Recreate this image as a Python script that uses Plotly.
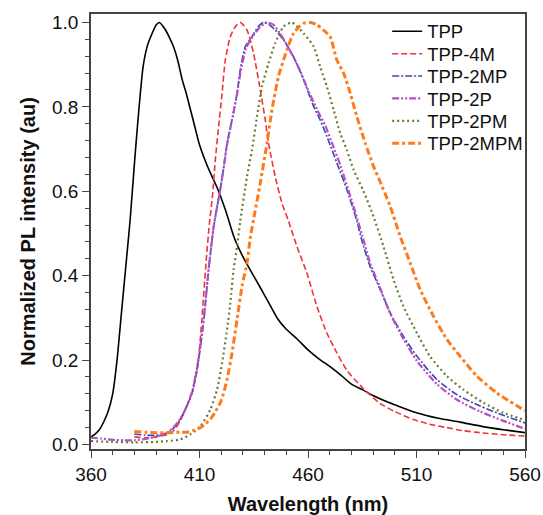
import plotly.graph_objects as go

# ---------------- data ----------------
series_names = ["TPP", "TPP-4M", "TPP-2MP", "TPP-2P", "TPP-2PM", "TPP-2MPM"]

wl_tpp = [360, 362, 364, 366, 368, 370, 372, 374, 376, 378, 380, 382, 384, 386, 388, 390, 391.5,
          394, 396, 398, 400, 402, 404, 406, 408, 410, 414, 418, 422, 426, 430, 434, 438, 442,
          446, 450, 455, 460, 465, 470, 475, 480, 485, 490, 495, 500, 510, 520, 530, 540, 550, 560]
pl_tpp = [0.018, 0.025, 0.036, 0.055, 0.08, 0.12, 0.2, 0.31, 0.42, 0.53, 0.665, 0.79, 0.895, 0.945,
          0.972, 0.994, 1.0, 0.985, 0.966, 0.943, 0.91, 0.865, 0.83, 0.79, 0.75, 0.71, 0.655, 0.61,
          0.555, 0.49, 0.445, 0.408, 0.372, 0.335, 0.298, 0.273, 0.25, 0.224, 0.203, 0.185, 0.165,
          0.143, 0.13, 0.116, 0.104, 0.094, 0.075, 0.062, 0.053, 0.043, 0.035, 0.028]

wl_4m = [380, 385, 390, 395, 398, 401, 403.5, 406.5, 409, 411, 413, 414.5, 416, 417.3, 418.8, 420.4,
         421.9, 424.2, 426.5, 428.8, 431.9, 434.9, 438, 440.3, 441.8, 444.9, 448, 451, 454.9, 459.5,
         464.1, 468.7, 473.3, 478, 485.6, 493.3, 500, 508.6, 516, 524, 531, 539.3, 550, 560]
pl_4m = [0.018, 0.016, 0.018, 0.023, 0.032, 0.055, 0.083, 0.122, 0.178, 0.29, 0.43, 0.52, 0.59,
         0.675, 0.753, 0.832, 0.911, 0.966, 0.99, 1.0, 0.982, 0.927, 0.84, 0.769, 0.714, 0.635,
         0.572, 0.53, 0.469, 0.406, 0.327, 0.264, 0.217, 0.175, 0.132, 0.097, 0.078, 0.059, 0.048,
         0.040, 0.033, 0.028, 0.023, 0.020]

wl_2mp = [380, 385, 390, 395, 398, 401, 403, 406.6, 409.6, 412, 414.2, 416.5, 418, 419.6, 421.1,
          422.7, 425, 427.3, 428.8, 431.1, 434.2, 437, 439.5, 442, 444.9, 448.7, 453.3, 458, 462.6,
          465.6, 468.7, 473.3, 477.9, 482.5, 485, 488.6, 493.3, 497.9, 504, 510.2, 519.4, 528.6,
          539.3, 550, 560]
pl_2mp = [0.025, 0.022, 0.022, 0.027, 0.038, 0.058, 0.078, 0.122, 0.201, 0.296, 0.414, 0.515, 0.56,
          0.605, 0.655, 0.714, 0.769, 0.832, 0.888, 0.943, 0.966, 0.99, 1.0, 0.995, 0.982, 0.959,
          0.919, 0.864, 0.801, 0.769, 0.730, 0.667, 0.604, 0.53, 0.48, 0.422, 0.367, 0.312, 0.256,
          0.209, 0.154, 0.118, 0.091, 0.069, 0.051]

wl_2p = [360, 365, 370, 375, 380, 385, 390, 395, 398, 401, 403, 406.6, 409.6, 412, 414.2, 416.5, 418,
         419.6, 421.1, 422.7, 425, 427.3, 429, 431.5, 435, 438, 441, 444, 447, 451, 456, 460, 465,
         468, 471, 475, 480, 485, 488.6, 493.3, 497.9, 504, 510.2, 519.4, 528.6, 539.3, 550, 560]
pl_2p = [0.016, 0.014, 0.011, 0.010, 0.010, 0.013, 0.018, 0.028, 0.04, 0.06, 0.078, 0.125, 0.205,
         0.30, 0.415, 0.515, 0.56, 0.605, 0.655, 0.71, 0.77, 0.83, 0.885, 0.94, 0.97, 0.99, 1.0,
         0.995, 0.975, 0.94, 0.89, 0.84, 0.785, 0.755, 0.715, 0.66, 0.58, 0.495, 0.43, 0.37, 0.31,
         0.25, 0.198, 0.143, 0.106, 0.078, 0.056, 0.037]

wl_2pm = [360, 370, 380, 390, 395, 401, 405.8, 410.4, 415, 418.1, 420.4, 422.7, 424.2, 425.7, 427.3,
          428.8, 431.9, 434.2, 436.5, 438.8, 441.8, 444.9, 448.7, 452.6, 458, 462.6, 465.6, 468.7,
          471.8, 474.8, 477.9, 481, 485.6, 490.2, 494.8, 499.4, 504, 510.2, 516.2, 524, 531.6,
          540.8, 550, 560]
pl_2pm = [0.008, 0.006, 0.005, 0.006, 0.008, 0.012, 0.024, 0.043, 0.083, 0.13, 0.193, 0.272, 0.335,
          0.414, 0.469, 0.53, 0.635, 0.698, 0.777, 0.848, 0.903, 0.951, 0.99, 1.0, 0.974, 0.943,
          0.895, 0.848, 0.793, 0.738, 0.698, 0.651, 0.60, 0.54, 0.469, 0.391, 0.327, 0.264, 0.209,
          0.162, 0.130, 0.099, 0.075, 0.058]

wl_2mpm = [380, 385, 390, 395, 401, 404.4, 407, 410.4, 413, 415, 417, 419.6, 421, 422.7, 425, 427.3,
           429.6, 431.9, 433.4, 434.9, 438, 441.1, 443.4, 446.4, 450.3, 453.3, 456, 458, 461, 464,
           467.1, 470.2, 473.3, 476.4, 479.5, 482.5, 486.4, 490.2, 493.3, 497.9, 502.5, 507.1,
           511.7, 517.8, 524, 530.1, 537.8, 547, 560]
pl_2mpm = [0.031, 0.029, 0.028, 0.028, 0.029, 0.029, 0.033, 0.04, 0.05, 0.06, 0.075, 0.099, 0.12,
           0.154, 0.217, 0.296, 0.375, 0.43, 0.49, 0.533, 0.619, 0.714, 0.793, 0.872, 0.935, 0.974,
           0.99, 0.998, 1.0, 0.995, 0.982, 0.966, 0.911, 0.880, 0.832, 0.777, 0.714, 0.659, 0.622,
           0.564, 0.493, 0.430, 0.367, 0.304, 0.249, 0.209, 0.162, 0.122, 0.08]

x_ticks = [360, 410, 460, 510, 560]
y_ticks = [0.0, 0.2, 0.4, 0.6, 0.8, 1.0]

# ---------------- styles ----------------
styles = [
    dict(color="#000000", width=1.6, dash="solid"),
    dict(color="#f0333a", width=1.6, dash="6px,3px"),
    dict(color="#3a47b0", width=1.6, dash="7px,2px,2px,2px"),
    dict(color="#b44fc4", width=2.2, dash="7px,2px,2px,2px,2px,2px"),
    dict(color="#6b7d2c", width=2.2, dash="2px,3px"),
    dict(color="#ff7a1a", width=3.0, dash="7px,3px,3px,3px"),
]

xs = [wl_tpp, wl_4m, wl_2mp, wl_2p, wl_2pm, wl_2mpm]
ys = [pl_tpp, pl_4m, pl_2mp, pl_2p, pl_2pm, pl_2mpm]

font_family = "Liberation Sans, Arial, sans-serif"

W, H = 543, 515
plot_left, plot_right, plot_top, plot_bottom = 90.5, 525, 14, 449.5
plot_h = plot_bottom - plot_top
plot_w = plot_right - plot_left

legend_keys = ["legend", "legend2", "legend3", "legend4", "legend5", "legend6"]
legend_centers = [31.7, 54.2, 76.6, 99.0, 121.4, 143.8]   # px of each legend row
legend_left = 387

fig = go.Figure()
for name, x, y, st, lk in zip(series_names, xs, ys, styles, legend_keys):
    fig.add_trace(go.Scatter(x=x, y=y, mode="lines", name=name, legend=lk,
                             line=dict(color=st["color"], width=st["width"], dash=st["dash"],
                                       shape="spline", smoothing=0.6)))

legends = {}
for lk, c in zip(legend_keys, legend_centers):
    legends[lk] = dict(
        x=(legend_left - plot_left) / plot_w,
        y=(plot_bottom - c) / plot_h,
        xanchor="left", yanchor="middle", bgcolor="rgba(0,0,0,0)", borderwidth=0,
        font=dict(family=font_family, size=18.5, color="#111111"))

axis_common = dict(showgrid=False, zeroline=False, showline=True, linecolor="#444444", linewidth=1.5,
                   mirror=True, ticks="outside", tickcolor="#444444", tickwidth=1.2, ticklen=7,
                   automargin=False,
                   tickfont=dict(family=font_family, size=19, color="#111111"))

fig.update_layout(
    width=W, height=H,
    margin=dict(l=plot_left, r=W - plot_right, t=plot_top, b=H - plot_bottom, autoexpand=False),
    paper_bgcolor="white", plot_bgcolor="white",
    font=dict(family=font_family, color="#111111"),
    showlegend=True,
    **legends,
)
fig.update_xaxes(range=[360, 560], tickvals=x_ticks, ticktext=[str(v) for v in x_ticks],
                 minor=dict(ticks="outside", dtick=10, tick0=360, ticklen=4, tickcolor="#444444", tickwidth=1.2),
                 title=dict(text="<b>Wavelength (nm)</b>", font=dict(family=font_family, size=20), standoff=21),
                 **axis_common)
fig.update_yaxes(range=[-0.0107, 1.02], tickvals=y_ticks, ticktext=[f"{v:.1f}" for v in y_ticks],
                 minor=dict(ticks="outside", dtick=0.04, tick0=0, ticklen=4, tickcolor="#444444", tickwidth=1.2),
                 title=dict(text="<b>Normalized PL intensity (au)</b>", font=dict(family=font_family, size=20), standoff=11),
                 **axis_common)

fig.write_html("out.html", config={"displayModeBar": False},
               post_script="document.body.style.margin='0';document.body.style.overflow='hidden';")
